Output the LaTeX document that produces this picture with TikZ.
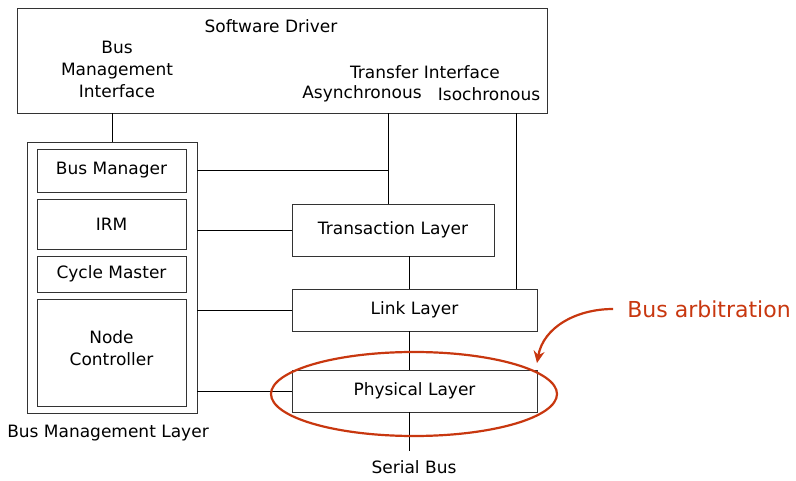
\documentclass[tikz,border=0pt]{standalone}
\usepackage{fontspec}
\setmainfont{DejaVu Sans}
\usetikzlibrary{arrows.meta}
\definecolor{arbred}{RGB}{200,55,15}
\begin{document}
\begin{tikzpicture}[x=1pt,y=-1pt,
    every node/.style={font=\fontsize{17}{22}\selectfont},
    box/.style={draw=black!80,line width=0.9pt,inner sep=0pt},
    wire/.style={draw=black,line width=0.9pt},
    arb/.style={draw=arbred,line width=2.2pt}]
\useasboundingbox (0,0) rectangle (796,481);

% software driver
\node[box,minimum width=530,minimum height=105] (SD) at (282,60.5) {};
\node (SDtext) at (271,26) {Software Driver};
\node[align=center] (BMI) at (117,69) {Bus\\Management\\Interface};
\node (TI) at (425,72) {Transfer Interface};
\node (Async) at (362,94) {Asynchronous};
\node (Iso) at (489,94) {Isochronous};

% bus management layer
\begin{scope}[every node/.append style={box,minimum width=149}]
    \node[minimum width=170,minimum height=271] (BML) at (112,277.5) {};
    \node[minimum height=43] (BM) at (111.5,170.5) {Bus Manager};
    \node[minimum height=50] (IRM) at (111.5,224) {IRM};
    \node[minimum height=36] (CM) at (111.5,274) {Cycle Master};
    \node[minimum height=107] (NC) at (111.5,352.5) {};
\end{scope}
\node[align=center] (NCtext) at (111.5,348) {Node\\Controller};
\node (BMLtext) at (108,433) {Bus Management Layer};

% protocol layers
\node[box,minimum width=202,minimum height=52] (TL) at (393,230) {Transaction Layer};
\node[box,minimum width=245,minimum height=42] (LL) at (414.5,310) {Link Layer};
\node[box,minimum width=245,minimum height=42] (PL) at (414.5,391) {Physical Layer};
\node (SB) at (414,467) {Serial Bus};

\coordinate (asy) at (388,113);
\coordinate (iso) at (516,113);
\coordinate (bus) at (409,451);

\begin{scope}[every path/.style={wire}]
    \path (SD.south -| BML.north) edge (BML.north);
    \path (SD.south -| asy) edge (TL.north -| asy);
    \path (SD.south -| iso) edge (LL.north -| iso);
    \path (BML.east |- BM) edge (asy |- BM);
    \path (BML.east |- TL.west) edge (TL.west);
    \path (BML.east |- LL.west) edge (LL.west);
    \path (BML.east |- PL.west) edge (PL.west);
    \path (TL.south -| bus) edge (LL.north -| bus);
    \path (LL.south -| bus) edge (PL.north -| bus);
    \path (PL.south -| bus) edge (bus);
\end{scope}

% bus arbitration
\draw[arb] (414,394) ellipse [x radius=143,y radius=42];
\node[text=arbred,font=\fontsize{22}{26}\selectfont,inner xsep=14pt] (BA) at (709,309) {Bus arbitration};
\coordinate (tip) at (537,363);
\draw[arb,-{Stealth[length=12pt,width=11pt]}] (BA.west) to[out=180,in=80] (tip);
\end{tikzpicture}
\end{document}
